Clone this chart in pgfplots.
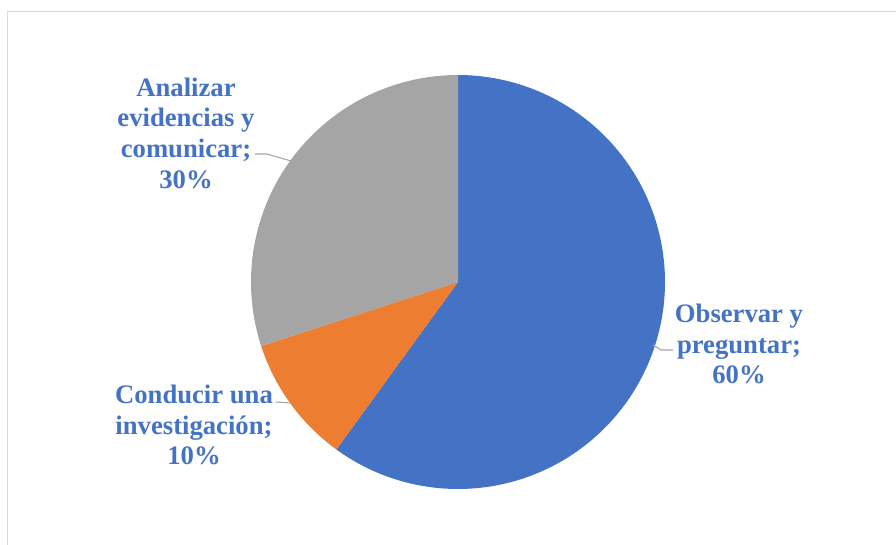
\documentclass[border=0pt]{standalone}
\usepackage{fontspec}
\setmainfont{Liberation Serif}
\usepackage{pgfplots}
\pgfplotsset{compat=1.18}
\definecolor{cblue}{HTML}{4472C4}
\definecolor{corange}{HTML}{ED7D31}
\definecolor{cgray}{HTML}{A5A5A5}
\definecolor{cline}{HTML}{A6A6A6}
\definecolor{cframe}{HTML}{D9D9D9}
% values (percent)
\def\vA{60}% Observar y preguntar
\def\vB{10}% Conducir una investigacion
\def\vC{30}% Analizar evidencias y comunicar
\pgfmathsetmacro{\aA}{90}
\pgfmathsetmacro{\aB}{\aA-3.6*\vA}
\pgfmathsetmacro{\aC}{\aB-3.6*\vB}
\pgfmathsetmacro{\aD}{\aC-3.6*\vC}
\begin{document}
\begin{tikzpicture}
\begin{axis}[width=672pt,height=408.75pt,scale only axis,
  xmin=0,xmax=896,ymin=0,ymax=545,y dir=reverse,
  hide axis, clip=false]
\coordinate (bl) at (axis cs:0,545);
\coordinate (tr) at (axis cs:896,0);
\draw[cframe, line width=1.2pt] (axis cs:7.5,560) -- (axis cs:7.5,11.5) -- (axis cs:910,11.5);
\addplot[fill=cblue, draw=none, domain=\aB:\aA, samples=150, variable=\t]
  ({458+207*cos(\t)},{282-207*sin(\t)}) -- (axis cs:458,282) -- cycle;
\addplot[fill=corange, draw=none, domain=\aC:\aB, samples=40, variable=\t]
  ({458+207*cos(\t)},{282-207*sin(\t)}) -- (axis cs:458,282) -- cycle;
\addplot[fill=cgray, draw=none, domain=\aD:\aC, samples=100, variable=\t]
  ({458+207*cos(\t)},{282-207*sin(\t)}) -- (axis cs:458,282) -- cycle;
\draw[cline, line width=0.8pt] (axis cs:255,154) -- (axis cs:267,154) -- (axis cs:291,161);
\draw[cline, line width=0.8pt] (axis cs:276,402) -- (axis cs:291,403);
\draw[cline, line width=0.8pt] (axis cs:653,345) -- (axis cs:661,350) -- (axis cs:673,350);
\node[font=\fontsize{20}{23}\selectfont\bfseries, text=cblue, align=center, inner sep=0pt]
  at (axis cs:186,133) {Analizar\\evidencias y\\comunicar;\\30\%};
\node[font=\fontsize{20}{23}\selectfont\bfseries, text=cblue, align=center, inner sep=0pt]
  at (axis cs:194,425) {Conducir una\\investigación;\\10\%};
\node[font=\fontsize{20}{23}\selectfont\bfseries, text=cblue, align=center, inner sep=0pt]
  at (axis cs:739,344) {Observar y\\preguntar;\\60\%};
\end{axis}
\pgfresetboundingbox
\useasboundingbox (bl) rectangle (tr);
\end{tikzpicture}
\end{document}
